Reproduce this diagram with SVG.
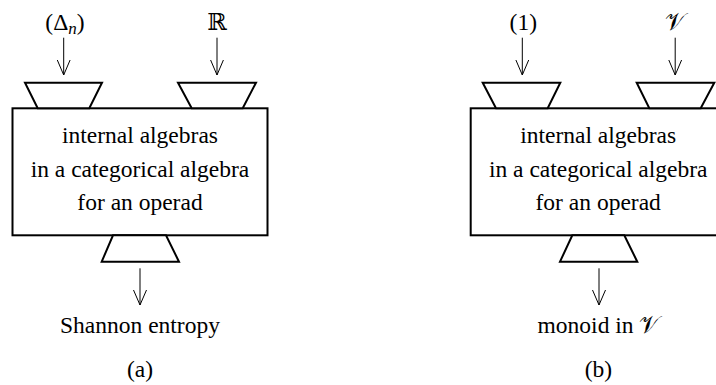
<svg xmlns="http://www.w3.org/2000/svg" width="716" height="385" viewBox="0 0 716 385">
<style>
  .box { fill: #fff; stroke: #000; stroke-width: 2; }
  .trap { fill: #fff; stroke: #000; stroke-width: 2; stroke-linejoin: miter; }
  .t { font-family: "Liberation Serif", "DejaVu Serif", serif; font-size: 23.5px; fill: #000; text-anchor: middle; }
  .conn { stroke: #000; stroke-width: 1; fill: none; }
  .head { stroke: #000; stroke-width: 1; fill: none; }
</style>
<rect width="716" height="385" fill="#fff"/>

<!-- Diagram (a) -->
<g id="a-box">
  <rect class="box" x="12.5" y="108.3" width="255" height="127"/>
  <text class="t" x="140" y="143.3">internal algebras</text>
  <text class="t" x="140" y="176.7">in a categorical algebra</text>
  <text class="t" x="140" y="210">for an operad</text>
</g>
<g id="a-in1">
  <polygon class="trap" points="25,82.7 102,82.7 89.3,108.3 37.7,108.3"/>
</g>
<g id="a-in2">
  <polygon class="trap" points="178,82.7 256,82.7 242.7,108.3 191.7,108.3"/>
</g>
<g id="a-out">
  <polygon class="trap" points="113,235.3 166,235.3 179,261.7 101.7,261.7"/>
</g>
<g id="a-label-in1"><text class="t" x="65" y="30">(Δ<tspan font-style="italic" font-size="17" dy="4">n</tspan><tspan dy="-4">)</tspan></text></g>
<g id="a-label-in2"><text class="t" x="217" y="29.5">ℝ</text></g>
<g id="a-label-out"><text class="t" x="140" y="333">Shannon entropy</text></g>
<g id="a-caption"><text class="t" x="140" y="376.5">(a)</text></g>

<!-- Diagram (b) -->
<g id="b-box">
  <rect class="box" x="470.7" y="108.3" width="255" height="127"/>
  <text class="t" x="598.2" y="143.3">internal algebras</text>
  <text class="t" x="598.2" y="176.7">in a categorical algebra</text>
  <text class="t" x="598.2" y="210">for an operad</text>
</g>
<g id="b-in1">
  <polygon class="trap" points="482.7,82.7 560.3,82.7 547.7,108.3 496,108.3"/>
</g>
<g id="b-in2">
  <polygon class="trap" points="636.7,82.7 714.3,82.7 700.7,108.3 649.3,108.3"/>
</g>
<g id="b-out">
  <polygon class="trap" points="572.3,235.3 624.3,235.3 637.3,261.7 560,261.7"/>
</g>
<g id="b-label-in1"><text class="t" x="523.3" y="30">(1)</text></g>
<g id="b-label-in2"><text class="t" x="675" y="29.5">𝒱</text></g>
<g id="b-label-out"><text class="t" x="598.5" y="333">monoid in 𝒱</text></g>
<g id="b-caption"><text class="t" x="598.5" y="376.5">(b)</text></g>

<!-- Connectors -->
<g id="connectors">
  <line class="conn" x1="63.7" y1="37.7" x2="63.7" y2="75"/>
  <polyline class="head" points="57.3,60 63.7,75 70.1,60"/>
  <line class="conn" x1="217" y1="37.7" x2="217" y2="75"/>
  <polyline class="head" points="210.6,60 217,75 223.4,60"/>
  <line class="conn" x1="140" y1="268.3" x2="140" y2="305"/>
  <polyline class="head" points="133.5,290 140,305 146.5,290"/>

  <line class="conn" x1="522.3" y1="37.7" x2="522.3" y2="75"/>
  <polyline class="head" points="515.9,60 522.3,75 528.7,60"/>
  <line class="conn" x1="675.2" y1="37.7" x2="675.2" y2="75"/>
  <polyline class="head" points="668.8,60 675.2,75 681.6,60"/>
  <line class="conn" x1="599" y1="268.3" x2="599" y2="305"/>
  <polyline class="head" points="592.5,290 599,305 605.5,290"/>
</g>
</svg>
